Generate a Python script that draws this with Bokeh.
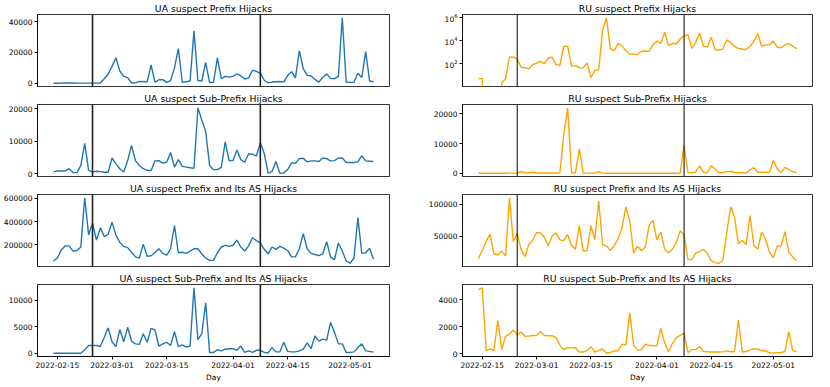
import math
import pandas as pd
from bokeh.plotting import figure
from bokeh.layouts import gridplot
from bokeh.models import (Span, FixedTicker, NumeralTickFormatter, DatetimeTickFormatter,
                          Range1d, LogTickFormatter, DataRange1d)
from bokeh.embed import file_html
from bokeh.resources import INLINE

# ---------------- data ----------------
first_day = "2022-02-14"
last_day = "2022-05-07"
event_days = ["2022-02-24", "2022-04-08"]
x_tick_labels = ["2022-02-15", "2022-03-01", "2022-03-15", "2022-04-01", "2022-04-15", "2022-05-01"]

ua_prefix = [50, 50, 100, 300, 200, 150, 100, 100, 100, 100,
             100, 100, 200, 3000, 6000, 11000, 16500, 8000, 4500, 3700,
             200, 300, 1200, 1000, 1000, 12000, 800, 2300, 2400, 600,
             1800, 10000, 22500, 700, 1000, 1500, 34000, 1800, 1500, 13500,
             500, 600, 16500, 3000, 4500, 4000, 4500, 6200, 4800, 2800,
             3500, 8500, 7800, 6500, 2000, 300, 800, 1000, 1200, 800,
             5000, 7500, 3500, 21000, 9500, 5200, 4800, 2500, 800, 3800,
             6000, 3200, 3000, 4500, 42500, 800, 600, 700, 6500, 3800,
             20500, 1500, 1000]

ua_subprefix = [500, 800, 800, 800, 1500, 300, 300, 2500, 9300, 1000,
                500, 700, 600, 400, 400, 4800, 3000, 1500, 500, 4000,
                8700, 4000, 2500, 1500, 1000, 900, 3900, 4000, 3200, 3500,
                6500, 2000, 4300, 2200, 2000, 1800, 1600, 20300, 16500, 13000,
                2500, 1200, 1200, 1900, 9800, 4000, 4000, 7300, 4300, 3500,
                6100, 6000, 5400, 9500, 6200, 100, 600, 3700, 100, 200,
                1200, 3300, 3200, 4600, 4700, 3600, 3900, 3900, 3700, 4800,
                4600, 3900, 4000, 4800, 4800, 3400, 3400, 3400, 3600, 5500,
                3900, 3800, 3700]

ua_prefix_as = [60000, 85000, 155000, 190000, 190000, 145000, 150000, 180000, 605000, 285000,
                385000, 240000, 345000, 270000, 290000, 395000, 280000, 220000, 185000, 175000,
                135000, 95000, 85000, 205000, 100000, 105000, 130000, 165000, 125000, 110000,
                165000, 365000, 130000, 135000, 125000, 145000, 165000, 165000, 120000, 85000,
                65000, 65000, 130000, 180000, 195000, 185000, 195000, 240000, 180000, 145000,
                190000, 260000, 235000, 215000, 160000, 120000, 180000, 160000, 185000, 170000,
                150000, 95000, 95000, 165000, 295000, 165000, 125000, 115000, 105000, 120000,
                225000, 95000, 70000, 215000, 145000, 60000, 40000, 85000, 435000, 125000,
                130000, 170000, 75000]

ua_subprefix_as = [50, 50, 50, 50, 50, 50, 50, 50, 700, 1500,
                   1500, 1500, 1300, 3000, 4800, 2200, 1300, 4500, 2200, 4900,
                   2300, 1800, 1700, 3700, 2100, 4700, 4400, 1400, 1800, 2100,
                   1500, 4100, 1300, 1600, 1200, 1400, 12300, 2600, 3700, 9500,
                   200, 200, 700, 500, 800, 900, 900, 600, 1400, 200,
                   500, 200, 600, 600, 200, 100, 1100, 300, 300, 2100,
                   400, 300, 300, 500, 800, 2000, 900, 3300, 2300, 2700,
                   2500, 5800, 4000, 1800, 1800, 200, 200, 300, 1100, 1800,
                   500, 400, 250]

ru_prefix = [5, 5, 0, 0, 0, 0, 2, 5, 350, 370,
             250, 47, 45, 35, 80, 110, 150, 95, 300, 350,
             80, 70, 3100, 3100, 57, 70, 42, 42, 110, 6,
             25, 28, 68000, 870000, 1900, 1230, 5500, 3300, 1250, 650,
             620, 600, 1150, 1200, 1100, 4300, 8500, 5500, 49000, 3500,
             5500, 4800, 13000, 23000, 30000, 2000, 6600, 43000, 3100, 2600,
             18000, 1600, 1400, 1750, 11000, 6300, 2900, 2000, 1700, 1700,
             2900, 8000, 38000, 3100, 4000, 4000, 8500, 2600, 2300, 4000,
             5200, 3100, 1900]

ru_subprefix = [50, 50, 50, 50, 50, 50, 50, 50, 80, 80,
                100, 600, 200, 200, 400, 200, 150, 150, 150, 150,
                150, 200, 13000, 22000, 200, 200, 8200, 100, 100, 100,
                100, 500, 100, 60, 60, 50, 50, 50, 60, 60,
                50, 50, 50, 60, 60, 70, 60, 50, 50, 60,
                70, 60, 80, 9300, 300, 200, 400, 2500, 400, 200,
                2500, 1500, 200, 200, 600, 700, 300, 200, 200, 100,
                1200, 1900, 400, 400, 400, 300, 4300, 1500, 400, 2000,
                1300, 600, 300]

ru_prefix_as = [15700, 28000, 42600, 53000, 23000, 21000, 27500, 19600, 110000, 41600,
                55000, 29400, 18600, 37700, 43600, 56000, 55400, 48500, 35300, 50500,
                55400, 44600, 43600, 53000, 35800, 30000, 67000, 27400, 28000, 66600,
                45000, 105000, 37000, 35300, 28400, 35300, 46500, 63000, 95500, 73500,
                24000, 34800, 28000, 33300, 67000, 75000, 44600, 56800, 30400, 24500,
                30000, 40700, 58800, 52400, 14200, 13700, 24000, 26500, 30000, 23500,
                12200, 9300, 8300, 12700, 55400, 96000, 80400, 38700, 44100, 37200,
                82300, 35300, 30400, 56800, 46000, 25500, 16700, 35300, 34800, 57300,
                25500, 18100, 12200]

ru_subprefix_as = [4770, 4900, 230, 350, 230, 2450, 300, 1290, 1450, 1750,
                   1400, 1600, 1290, 1300, 1350, 1350, 1650, 1350, 1330, 1330,
                   1200, 630, 300, 450, 430, 450, 120, 120, 220, 520,
                   120, 230, 350, 30, 80, 200, 200, 700, 630, 3060,
                   630, 260, 280, 700, 600, 600, 580, 1870, 820, 120,
                   770, 1190, 1350, 1520, 70, 300, 300, 520, 160, 140,
                   120, 120, 120, 140, 210, 140, 140, 2500, 120, 160,
                   280, 350, 350, 210, 230, 50, 50, 70, 70, 160,
                   1640, 230, 140]

titles = ["UA suspect Prefix Hijacks", "RU suspect Prefix Hijacks",
          "UA suspect Sub-Prefix Hijacks", "RU suspect Sub-Prefix Hijacks",
          "UA suspect Prefix and Its AS Hijacks", "RU suspect Prefix and Its AS Hijacks",
          "UA suspect Sub-Prefix and Its AS Hijacks", "RU suspect Sub-Prefix and Its AS Hijacks"]

y_ticks = [[0, 20000, 40000], [1e2, 1e4, 1e6],
           [0, 10000, 20000], [0, 10000, 20000],
           [200000, 400000, 600000], [50000, 100000],
           [0, 5000, 10000], [0, 2000, 4000]]

x_label = "Day"
ua_color = "#1f77b4"
ru_color = "#ffa500"

# ---------------- build ----------------
days = pd.date_range(first_day, last_day, freq="D")
series = [ua_prefix, ru_prefix, ua_subprefix, ru_subprefix,
          ua_prefix_as, ru_prefix_as, ua_subprefix_as, ru_subprefix_as]

FONT = "DejaVu Sans"
TICK_SIZE = "7.5px"
TITLE_SIZE = "9.3px"

def ms(d):
    return pd.Timestamp(d).value / 1e6

x_range = DataRange1d(range_padding=0.1)

figs = []
for k, (title, vals, ticks) in enumerate(zip(titles, series, y_ticks)):
    row, col = divmod(k, 2)
    bottom = row == 3
    is_log = (k == 1)
    color = ua_color if col == 0 else ru_color
    kw = dict(frame_width=352 if col == 0 else 350, frame_height=72,
              x_axis_type="datetime", x_range=x_range,
              output_backend="svg", toolbar_location=None,
              min_border_left=36, min_border_right=36 if col == 0 else 4,
              min_border_top=12, min_border_bottom=26 if bottom else 4)
    if is_log:
        pos = [v for v in vals if v > 0]
        lo, hi = math.log10(min(pos)), math.log10(max(pos))
        pad = 0.05 * (hi - lo)
        kw["y_axis_type"] = "log"
        kw["y_range"] = Range1d(10 ** (lo - pad), 10 ** (hi + pad))
        yvals = [v if v > 0 else 1e-100 for v in vals]  # clip non-positive like matplotlib
    else:
        kw["y_range"] = DataRange1d(range_padding=0.1)
        yvals = vals
    p = figure(**kw)
    p.title.text = title
    p.title.align = "center"
    p.title.text_font = FONT
    p.title.text_font_size = TITLE_SIZE
    p.title.text_font_style = "normal"
    p.title.text_color = "black"
    p.title.standoff = 1
    p.grid.visible = False
    p.outline_line_color = "black"
    p.outline_line_width = 0.8
    p.outline_line_alpha = 1.0
    p.background_fill_color = "white"
    p.border_fill_color = "white"

    p.line(days, yvals, line_color=color, line_width=1.4)
    for ev in event_days:
        p.add_layout(Span(location=ms(ev), dimension="height",
                          line_color="#222222" if col == 0 else "black",
                          line_width=1.6 if col == 0 else 1.0))

    ya = p.yaxis[0]
    ya.ticker = FixedTicker(ticks=ticks)
    if is_log:
        ya.formatter = LogTickFormatter()
    else:
        ya.formatter = NumeralTickFormatter(format="0")
    ya.major_label_text_font = FONT
    ya.major_label_text_font_size = TICK_SIZE
    ya.major_label_text_color = "black"
    ya.major_tick_out = 3
    ya.major_tick_in = 0
    ya.minor_tick_out = 0
    ya.minor_tick_in = 0
    ya.major_label_standoff = 2
    ya.axis_line_color = "black"
    ya.axis_line_width = 0.8

    xa = p.xaxis[0]
    if bottom:
        xa.ticker = FixedTicker(ticks=[ms(t) for t in x_tick_labels])
        fmt = "%Y-%m-%d"
        xa.formatter = DatetimeTickFormatter(days=fmt, months=fmt, years=fmt, hours=fmt,
                                             minutes=fmt, seconds=fmt, milliseconds=fmt,
                                             minsec=fmt, hourmin=fmt)
        xa.major_label_text_font = FONT
        xa.major_label_text_font_size = TICK_SIZE
        xa.major_label_text_color = "black"
        xa.major_tick_out = 3
        xa.major_tick_in = 0
        xa.minor_tick_out = 0
        xa.minor_tick_in = 0
        xa.major_label_standoff = 2
        xa.axis_line_color = "black"
        xa.axis_line_width = 0.8
        xa.axis_label = x_label
        xa.axis_label_text_font = FONT
        xa.axis_label_text_font_size = TICK_SIZE
        xa.axis_label_text_font_style = "normal"
        xa.axis_label_text_color = "black"
        xa.axis_label_standoff = 2
    else:
        xa.visible = False
    figs.append(p)

grid = gridplot([figs[i:i + 2] for i in range(0, 8, 2)], toolbar_location=None)

with open("out.html", "w") as f:
    f.write(file_html(grid, INLINE))
